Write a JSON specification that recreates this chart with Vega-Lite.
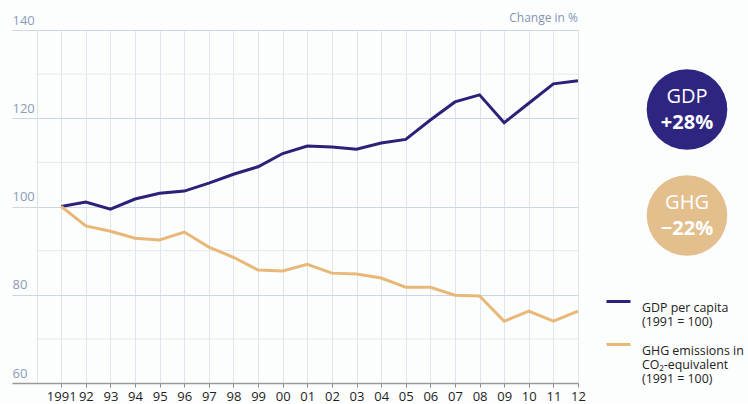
{
  "$schema": "https://vega.github.io/schema/vega-lite/v6.json",
  "background": "#fcfdfd",
  "padding": {"left": 12, "top": 12, "right": 6, "bottom": 0},
  "bounds": "flush",
  "spacing": 54,
  "config": {"view": {"stroke": null}, "font": "Open Sans"},
  "hconcat": [
    {
      "width": 566,
      "height": 353,
      "title": {"text": "Change in %", "anchor": "end", "frame": "group", "fontSize": 12, "fontWeight": "normal", "color": "#8396b3", "offset": -11},
      "layer": [
        {
          "data": {"values": [{"value": 70}, {"value": 90}, {"value": 110}, {"value": 130}]},
          "mark": {"type": "rule", "color": "#e4e9f0", "strokeWidth": 1},
          "encoding": {
            "y": {"field": "value", "type": "quantitative",
              "scale": {"domain": [60, 140], "nice": false, "zero": false},
              "axis": {
                "values": [60, 80, 100, 120, 140],
                "title": null, "grid": true, "gridColor": "#cdd6e3",
                "domain": false, "ticks": false, "tickSize": 0,
                "labelAlign": "left", "labelBaseline": "alphabetic",
                "labelPadding": 0, "labelOffset": -6,
                "labelFontSize": 13, "labelColor": "#8a9cb8"
              }},
            "x": {"datum": 1990, "type": "quantitative",
              "scale": {"domain": [1989, 2012], "nice": false, "zero": false},
              "axis": {
                "values": [1990, 1991, 1992, 1993, 1994, 1995, 1996, 1997, 1998, 1999, 2000, 2001, 2002, 2003, 2004, 2005, 2006, 2007, 2008, 2009, 2010, 2011, 2012],
                "title": null, "grid": true, "gridColor": "#dfe5ed",
                "domainColor": "#9a9a9a", "domainWidth": 1.5,
                "tickColor": "#8a8a8a", "tickSize": 4,
                "tickOpacity": {"condition": {"test": "datum.value < 1991", "value": 0}, "value": 1},
                "labelExpr": "datum.value < 1991 ? '' : datum.value == 1991 ? '1991' : slice(toString(datum.value), 2)",
                "labelFontSize": 13, "labelColor": "#1e1e1e", "labelPadding": 3,
                "labelFlush": false, "labelOverlap": false
              }},
            "x2": {"datum": 2012}
          }
        },
        {
          "data": {"values": [
            {"year": 1991, "series": "GDP per capita (1991 = 100)", "value": 100},
            {"year": 1992, "series": "GDP per capita (1991 = 100)", "value": 101},
            {"year": 1993, "series": "GDP per capita (1991 = 100)", "value": 99.4},
            {"year": 1994, "series": "GDP per capita (1991 = 100)", "value": 101.7},
            {"year": 1995, "series": "GDP per capita (1991 = 100)", "value": 103},
            {"year": 1996, "series": "GDP per capita (1991 = 100)", "value": 103.5},
            {"year": 1997, "series": "GDP per capita (1991 = 100)", "value": 105.3},
            {"year": 1998, "series": "GDP per capita (1991 = 100)", "value": 107.3},
            {"year": 1999, "series": "GDP per capita (1991 = 100)", "value": 109},
            {"year": 2000, "series": "GDP per capita (1991 = 100)", "value": 112},
            {"year": 2001, "series": "GDP per capita (1991 = 100)", "value": 113.7},
            {"year": 2002, "series": "GDP per capita (1991 = 100)", "value": 113.5},
            {"year": 2003, "series": "GDP per capita (1991 = 100)", "value": 113},
            {"year": 2004, "series": "GDP per capita (1991 = 100)", "value": 114.4},
            {"year": 2005, "series": "GDP per capita (1991 = 100)", "value": 115.2},
            {"year": 2006, "series": "GDP per capita (1991 = 100)", "value": 119.6},
            {"year": 2007, "series": "GDP per capita (1991 = 100)", "value": 123.7},
            {"year": 2008, "series": "GDP per capita (1991 = 100)", "value": 125.3},
            {"year": 2009, "series": "GDP per capita (1991 = 100)", "value": 119},
            {"year": 2010, "series": "GDP per capita (1991 = 100)", "value": 123.4},
            {"year": 2011, "series": "GDP per capita (1991 = 100)", "value": 127.8},
            {"year": 2012, "series": "GDP per capita (1991 = 100)", "value": 128.5},
            {"year": 1991, "series": "GHG emissions in CO₂-equivalent (1991 = 100)", "value": 100},
            {"year": 1992, "series": "GHG emissions in CO₂-equivalent (1991 = 100)", "value": 95.6},
            {"year": 1993, "series": "GHG emissions in CO₂-equivalent (1991 = 100)", "value": 94.4},
            {"year": 1994, "series": "GHG emissions in CO₂-equivalent (1991 = 100)", "value": 92.8},
            {"year": 1995, "series": "GHG emissions in CO₂-equivalent (1991 = 100)", "value": 92.4},
            {"year": 1996, "series": "GHG emissions in CO₂-equivalent (1991 = 100)", "value": 94.2},
            {"year": 1997, "series": "GHG emissions in CO₂-equivalent (1991 = 100)", "value": 90.8},
            {"year": 1998, "series": "GHG emissions in CO₂-equivalent (1991 = 100)", "value": 88.5},
            {"year": 1999, "series": "GHG emissions in CO₂-equivalent (1991 = 100)", "value": 85.6},
            {"year": 2000, "series": "GHG emissions in CO₂-equivalent (1991 = 100)", "value": 85.4},
            {"year": 2001, "series": "GHG emissions in CO₂-equivalent (1991 = 100)", "value": 86.9},
            {"year": 2002, "series": "GHG emissions in CO₂-equivalent (1991 = 100)", "value": 84.9},
            {"year": 2003, "series": "GHG emissions in CO₂-equivalent (1991 = 100)", "value": 84.7},
            {"year": 2004, "series": "GHG emissions in CO₂-equivalent (1991 = 100)", "value": 83.8},
            {"year": 2005, "series": "GHG emissions in CO₂-equivalent (1991 = 100)", "value": 81.7},
            {"year": 2006, "series": "GHG emissions in CO₂-equivalent (1991 = 100)", "value": 81.7},
            {"year": 2007, "series": "GHG emissions in CO₂-equivalent (1991 = 100)", "value": 79.9},
            {"year": 2008, "series": "GHG emissions in CO₂-equivalent (1991 = 100)", "value": 79.7},
            {"year": 2009, "series": "GHG emissions in CO₂-equivalent (1991 = 100)", "value": 74},
            {"year": 2010, "series": "GHG emissions in CO₂-equivalent (1991 = 100)", "value": 76.3},
            {"year": 2011, "series": "GHG emissions in CO₂-equivalent (1991 = 100)", "value": 74},
            {"year": 2012, "series": "GHG emissions in CO₂-equivalent (1991 = 100)", "value": 76.3}
          ]},
          "mark": {"type": "line", "strokeWidth": 3},
          "encoding": {
            "x": {
              "field": "year", "type": "quantitative",
              "scale": {"domain": [1989, 2012], "nice": false, "zero": false},
              "axis": {
                "values": [1990, 1991, 1992, 1993, 1994, 1995, 1996, 1997, 1998, 1999, 2000, 2001, 2002, 2003, 2004, 2005, 2006, 2007, 2008, 2009, 2010, 2011, 2012],
                "title": null, "grid": true, "gridColor": "#dfe5ed",
                "domainColor": "#9a9a9a", "domainWidth": 1.5,
                "tickColor": "#8a8a8a", "tickSize": 4,
                "tickOpacity": {"condition": {"test": "datum.value < 1991", "value": 0}, "value": 1},
                "labelExpr": "datum.value < 1991 ? '' : datum.value == 1991 ? '1991' : slice(toString(datum.value), 2)",
                "labelFontSize": 13, "labelColor": "#1e1e1e", "labelPadding": 3,
                "labelFlush": false, "labelOverlap": false
              }
            },
            "y": {
              "field": "value", "type": "quantitative",
              "scale": {"domain": [60, 140], "nice": false, "zero": false},
              "axis": {
                "values": [60, 80, 100, 120, 140],
                "title": null, "grid": true, "gridColor": "#cdd6e3",
                "domain": false, "ticks": false, "tickSize": 0,
                "labelAlign": "left", "labelBaseline": "alphabetic",
                "labelPadding": 0, "labelOffset": -6,
                "labelFontSize": 13, "labelColor": "#8a9cb8"
              }
            },
            "color": {
              "field": "series", "type": "nominal",
              "scale": {"domain": ["GDP per capita (1991 = 100)", "GHG emissions in CO₂-equivalent (1991 = 100)"], "range": ["#2b2178", "#e8b878"]},
              "legend": {
                "orient": "none", "legendX": 593, "legendY": 258, "title": null,
                "symbolType": "stroke", "symbolStrokeWidth": 3, "symbolSize": 576,
                "labelFontSize": 12.4, "labelLineHeight": 15, "labelColor": "#222222", "labelLimit": 200,
                "labelBaseline": "top", "rowPadding": 2, "labelOffset": 10,
                "labelExpr": "datum.label == 'GDP per capita (1991 = 100)' ? ['GDP per capita', '(1991 = 100)'] : ['GHG emissions in', 'CO₂-equivalent', '(1991 = 100)']"
              }
            }
          }
        }
      ]
    },
    {
      "width": 110,
      "height": 265,
      "data": {"values": [{"label": "GDP", "change": "+28%"}, {"label": "GHG", "change": "−22%"}]},
      "encoding": {
        "y": {"field": "label", "type": "nominal", "scale": {"type": "point", "padding": 0.75}, "axis": null}
      },
      "layer": [
        {
          "mark": {"type": "circle", "size": 6500, "opacity": 1},
          "encoding": {"fill": {"condition": {"test": "datum.label == 'GDP'", "value": "#2e2580"}, "value": "#e3bf8e"}}
        },
        {
          "mark": {"type": "text", "dy": -13, "fontSize": 20, "color": "white"},
          "encoding": {"text": {"field": "label"}}
        },
        {
          "mark": {"type": "text", "dy": 13, "fontSize": 20, "fontWeight": "bold", "color": "white"},
          "encoding": {"text": {"field": "change"}}
        }
      ]
    }
  ]
}
